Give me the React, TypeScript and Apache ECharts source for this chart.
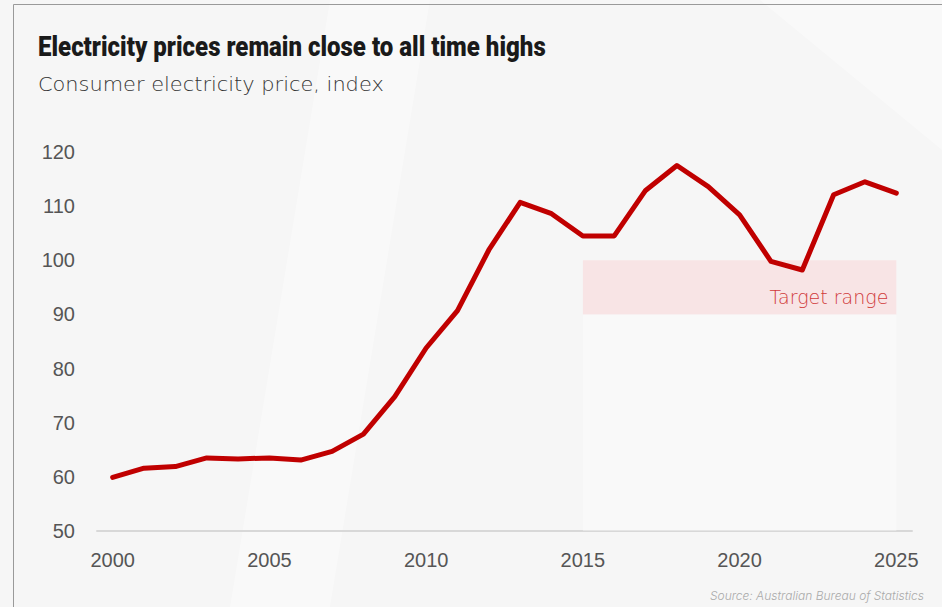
import React, { useEffect, useRef } from "react";
import * as echarts from "echarts";

const years = [
  "2000", "2001", "2002", "2003", "2004", "2005", "2006", "2007", "2008", "2009",
  "2010", "2011", "2012", "2013", "2014", "2015", "2016", "2017", "2018", "2019",
  "2020", "2021", "2022", "2023", "2024", "2025",
];
const priceIndex = [
  59.9, 61.6, 61.9, 63.5, 63.3, 63.5, 63.1, 64.7, 67.9, 74.8,
  83.8, 90.7, 101.9, 110.7, 108.6, 104.5, 104.5, 112.9, 117.5, 113.6,
  108.4, 99.8, 98.2, 112.1, 114.5, 112.4,
];
const targetStart = "2015";
const targetEnd = "2025";
const targetLow = 90;
const targetHigh = 100;

export default function App() {
  const ref = useRef<HTMLDivElement>(null);
  useEffect(() => {
    if (!ref.current) return;
    const chart = echarts.init(ref.current, null, { renderer: "svg" });
    chart.setOption({
      animation: false,
      backgroundColor: "#f6f6f6",
      title: [
        {
          text: "Source: Australian Bureau of Statistics",
          right: 18,
          top: 589,
          padding: 0,
          textStyle: {
            fontFamily: "Inter, sans-serif",
            fontStyle: "italic",
            fontWeight: 300,
            fontSize: 12,
            color: "#aaa",
          },
        },
      ],
      graphic: [
        {
          type: "polygon",
          silent: true,
          z: -10,
          shape: { points: [[330, 0], [430, 0], [330, 607], [230, 607]] },
          style: { fill: "rgba(255,255,255,0.35)" },
        },
        {
          type: "polygon",
          silent: true,
          z: -10,
          shape: { points: [[760, 0], [942, 0], [942, 150]] },
          style: { fill: "rgba(255,255,255,0.35)" },
        },
        {
          type: "line",
          silent: true,
          shape: { x1: 13.5, y1: 4.5, x2: 942, y2: 4.5 },
          style: { stroke: "#9a9a9a", lineWidth: 1 },
        },
        {
          type: "line",
          silent: true,
          shape: { x1: 13.5, y1: 4.5, x2: 13.5, y2: 607 },
          style: { stroke: "#9a9a9a", lineWidth: 1 },
        },
        {
          type: "text",
          x: 38,
          y: 32,
          scaleX: 0.858,
          style: {
            text: "Electricity prices remain close to all time highs",
            fontFamily: "Roboto, sans-serif",
            fontWeight: 900,
            fontSize: 28,
            fill: "#1a1a1a",
          },
        },
        {
          type: "text",
          x: 38,
          y: 75,
          scaleX: 1.1,
          style: {
            text: "Consumer electricity price, index",
            fontFamily: "'DejaVu Sans', sans-serif",
            fontWeight: 200,
            fontSize: 19,
            fill: "#333",
          },
        },
      ],
      grid: { left: 97, right: 30, top: 152, bottom: 76, containLabel: false },
      xAxis: {
        type: "category",
        data: years,
        boundaryGap: true,
        axisLine: { show: true, lineStyle: { color: "#d8d8d8", width: 2 } },
        axisTick: { show: false },
        axisLabel: {
          interval: 4,
          margin: 19,
          fontSize: 20,
          color: "#555",
          fontFamily: "'Liberation Sans', Arial, sans-serif",
        },
        splitLine: { show: false },
      },
      yAxis: {
        type: "value",
        min: 50,
        max: 120,
        interval: 10,
        axisLine: { show: false },
        axisTick: { show: false },
        splitLine: { show: false },
        axisLabel: {
          margin: 22,
          fontSize: 20,
          color: "#555",
          fontFamily: "'Liberation Sans', Arial, sans-serif",
        },
      },
      series: [
        {
          type: "line",
          data: priceIndex,
          symbol: "none",
          lineStyle: { color: "#c00000", width: 5, cap: "round", join: "round" },
          z: 5,
          markArea: {
            silent: true,
            data: [
              [
                {
                  xAxis: targetStart,
                  yAxis: targetHigh,
                  itemStyle: { color: "#f8e4e5" },
                  label: {
                    show: true,
                    position: "insideBottomRight",
                    distance: 8,
                    formatter: "Target range",
                    fontFamily: "'DejaVu Sans', sans-serif",
                    fontWeight: 200,
                    fontSize: 19,
                    color: "#d03a3a",
                  },
                },
                { xAxis: targetEnd, yAxis: targetLow },
              ],
              [
                {
                  xAxis: targetStart,
                  yAxis: targetLow,
                  itemStyle: { color: "rgba(255,255,255,0.35)" },
                  label: { show: false },
                },
                { xAxis: targetEnd, yAxis: 50 },
              ],
            ],
          },
        },
      ],
    });
    return () => chart.dispose();
  }, []);
  return (
    <div
      ref={ref}
      style={{ position: "fixed", left: 0, top: 0, width: 942, height: 607 }}
    />
  );
}
